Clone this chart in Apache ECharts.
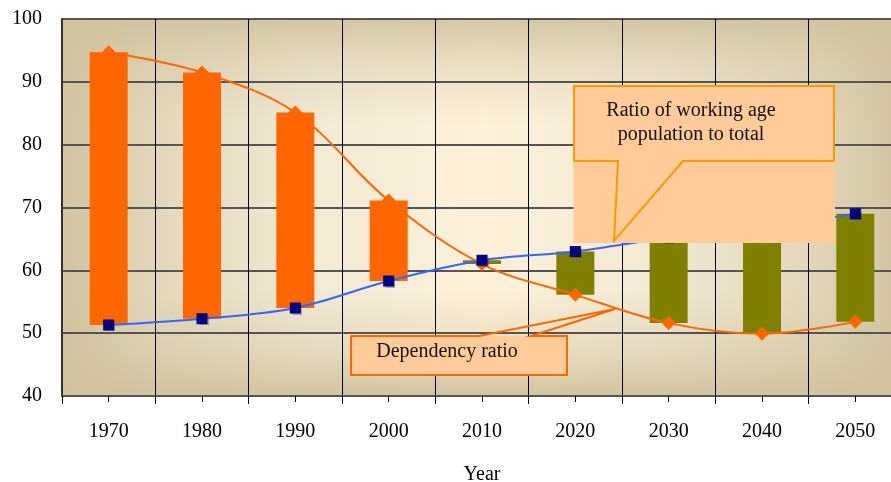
<!DOCTYPE html>
<html><head><meta charset="utf-8">
<script src="https://cdn.jsdelivr.net/npm/echarts@6/dist/echarts.min.js"></script>
<style>html,body{margin:0;padding:0;background:#fff}#c{width:891px;height:482px}</style>
</head><body><div id="c"></div>
<script>
// ---- data ----
const years = ['1970', '1980', '1990', '2000', '2010', '2020', '2030', '2040', '2050'];
const dependencyRatio = [94.7, 91.5, 85.1, 71.1, 61.0, 56.1, 51.6, 49.9, 51.8];
const workingAgeRatio = [51.3, 52.3, 54.0, 58.3, 61.6, 63.0, 65.2, 66.8, 69.0];
const yMin = 40, yMax = 100, yStep = 10;
const xAxisTitle = 'Year';
const calloutWorking = 'Ratio of working age\npopulation to total';
const calloutDependency = 'Dependency ratio';

// ---- derived (floating up/down bars between the two series) ----
const barBase = dependencyRatio.map((d, i) => Math.min(d, workingAgeRatio[i]));
const downSpan = dependencyRatio.map((d, i) => d > workingAgeRatio[i] ? +(d - workingAgeRatio[i]).toFixed(3) : 0);
const upSpan = dependencyRatio.map((d, i) => workingAgeRatio[i] >= d ? +(workingAgeRatio[i] - d).toFixed(3) : 0);

const FONT = '"Liberation Serif", "Times New Roman", serif';
const chart = echarts.init(document.getElementById('c'), null, {renderer: 'canvas'});

const peach = '#FFCC99';
chart.setOption({
  animation: false,
  backgroundColor: '#ffffff',
  grid: {left: 62, top: 19, width: 840, height: 377, containLabel: false, outerBoundsMode: 'none'},
  xAxis: [{
    type: 'category', data: years, boundaryGap: true, position: 'bottom',
    name: xAxisTitle, nameLocation: 'middle', nameGap: 69,
    nameTextStyle: {fontFamily: FONT, fontSize: 20, color: '#000'},
    axisLine: {show: true, lineStyle: {color: '#555', width: 2}},
    axisTick: {show: true, length: 8, interval: 0, lineStyle: {color: '#000', width: 1}},
    axisLabel: {fontFamily: FONT, fontSize: 20, color: '#000', margin: 26, interval: 0},
    splitLine: {show: true, interval: 0, lineStyle: {color: '#000', width: 1}}
  }, {
    type: 'category', data: years, boundaryGap: true, position: 'bottom', gridIndex: 0,
    axisLine: {show: false},
    axisTick: {show: true, alignWithLabel: true, length: 6, interval: 0, lineStyle: {color: '#000', width: 1}},
    axisLabel: {show: false}, splitLine: {show: false}
  }],
  yAxis: {
    type: 'value', min: yMin, max: yMax, interval: yStep,
    axisLine: {show: true, lineStyle: {color: '#333', width: 2}},
    axisTick: {show: false},
    axisLabel: {fontFamily: FONT, fontSize: 20, color: '#000', margin: 20},
    splitLine: {show: true, lineStyle: {color: '#555', width: 2}}
  },
  series: [
    {type: 'bar', stack: 'ud', data: barBase, barWidth: 38, silent: true, z: 1,
     itemStyle: {color: 'rgba(0,0,0,0)'}},
    {type: 'bar', stack: 'ud', data: upSpan, barWidth: 38, z: 1,
     itemStyle: {color: '#808000'}},
    {type: 'line', name: 'Dependency ratio', data: dependencyRatio, smooth: 0.35, z: 2,
     symbol: 'diamond', symbolSize: 14,
     itemStyle: {color: '#FF6600'}, lineStyle: {color: '#FF6600', width: 2}},
    {type: 'bar', stack: 'ud', data: downSpan, barWidth: 38, z: 3,
     itemStyle: {color: '#FF6600'}},
    {type: 'line', name: 'Ratio of working age population to total', data: workingAgeRatio, smooth: 0.35, z: 4,
     symbol: 'rect', symbolSize: 11,
     itemStyle: {color: '#000080', shadowColor: 'rgba(60,40,120,0.35)', shadowOffsetX: 1, shadowOffsetY: 1, shadowBlur: 1},
     lineStyle: {color: '#3366FF', width: 2}}
  ],
  graphic: [
    {type: 'rect', z: -10, silent: true, shape: {x: 62, y: 19, width: 840, height: 377},
     style: {fill: new echarts.graphic.LinearGradient(0, 0, 1, 0, [
       {offset: 0, color: '#D2C4A0'}, {offset: 0.12, color: '#E3D8BB'}, {offset: 0.3, color: '#F3EAD5'},
       {offset: 0.5, color: '#FCF0D8'}, {offset: 0.7, color: '#F3EAD5'}, {offset: 0.88, color: '#E3D8BB'},
       {offset: 1, color: '#D2C4A0'}])}},
    {type: 'rect', z: -9, silent: true, shape: {x: 62, y: 19, width: 840, height: 377},
     style: {fill: new echarts.graphic.LinearGradient(0, 0, 0, 1, [
       {offset: 0, color: 'rgba(208,194,156,0.9)'}, {offset: 0.12, color: 'rgba(208,194,156,0.35)'},
       {offset: 0.28, color: 'rgba(208,194,156,0)'}, {offset: 0.72, color: 'rgba(208,194,156,0)'},
       {offset: 0.88, color: 'rgba(208,194,156,0.4)'}, {offset: 1, color: 'rgba(208,194,156,0.95)'}])}},
    // callout: working age ratio
    {type: 'rect', z: 100, silent: true, shape: {x: 573.5, y: 85.5, width: 261.5, height: 157.5},
     style: {fill: peach}},
    {type: 'polygon', z: 101, silent: true,
     shape: {points: [[618, 161], [574, 161], [574, 86], [834, 86], [834, 161], [683, 161], [614, 241]]},
     style: {fill: null, stroke: '#FF9900', lineWidth: 2}},
    {type: 'text', z: 102, silent: true, x: 691, y: 123,
     style: {text: calloutWorking, font: '20px ' + FONT, fill: '#111', textAlign: 'center', textVerticalAlign: 'middle', lineHeight: 24}},
    // callout: dependency ratio
    {type: 'rect', z: 100, silent: true, shape: {x: 351, y: 336, width: 216, height: 39},
     style: {fill: peach}},
    {type: 'polygon', z: 101, silent: true,
     shape: {points: [[479, 336], [351, 336], [351, 375], [567, 375], [567, 336], [531, 336], [615, 309]]},
     style: {fill: null, stroke: '#FF6600', lineWidth: 2}},
    {type: 'text', z: 102, silent: true, x: 447, y: 352,
     style: {text: calloutDependency, font: '20px ' + FONT, fill: '#111', textAlign: 'center', textVerticalAlign: 'middle'}}
  ]
});
</script>
</body></html>
